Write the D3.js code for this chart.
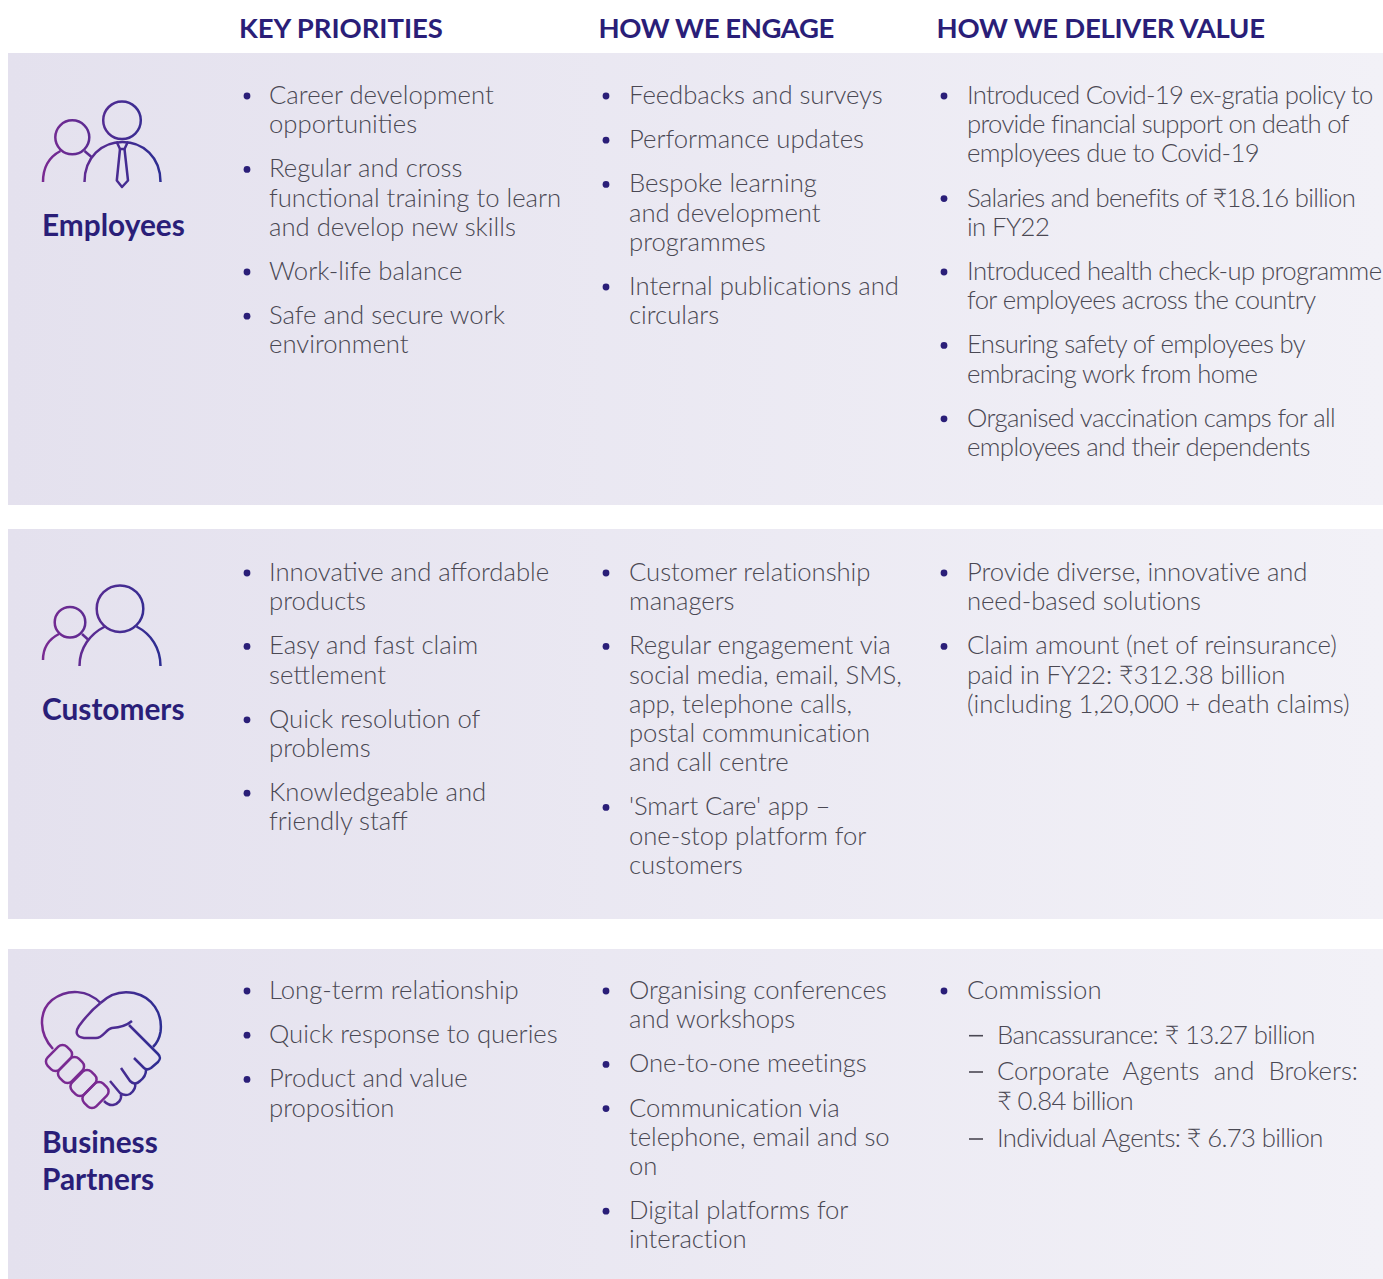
<!DOCTYPE html>
<html>
<head>
<meta charset="utf-8">
<script src="https://cdn.jsdelivr.net/npm/d3@7"></script>
<style>
html, body { margin: 0; padding: 0; background: #fff; overflow: hidden; }
svg { display: block; }
text { font-family: Lato, "Open Sans", sans-serif; }
</style>
</head>
<body>
<script>
//column headings
var headings = ["KEY PRIORITIES", "HOW WE ENGAGE", "HOW WE DELIVER VALUE"];

//row names, one entry per line of the label
var rowNames = [["Employees"], ["Customers"], ["Business", "Partners"]];

//every bullet is a list of the lines it wraps to
var employeesPriorities = [
    ["Career development", "opportunities"],
    ["Regular and cross", "functional training to learn", "and develop new skills"],
    ["Work-life balance"],
    ["Safe and secure work", "environment"]
];
var employeesEngage = [
    ["Feedbacks and surveys"],
    ["Performance updates"],
    ["Bespoke learning", "and development", "programmes"],
    ["Internal publications and", "circulars"]
];
var employeesValue = [
    ["Introduced Covid-19 ex-gratia policy to", "provide financial support on death of", "employees due to Covid-19"],
    ["Salaries and benefits of ₹18.16 billion", "in FY22"],
    ["Introduced health check-up programme", "for employees across the country"],
    ["Ensuring safety of employees by", "embracing work from home"],
    ["Organised vaccination camps for all", "employees and their dependents"]
];
var customersPriorities = [
    ["Innovative and affordable", "products"],
    ["Easy and fast claim", "settlement"],
    ["Quick resolution of", "problems"],
    ["Knowledgeable and", "friendly staff"]
];
var customersEngage = [
    ["Customer relationship", "managers"],
    ["Regular engagement via", "social media, email, SMS,", "app, telephone calls,", "postal communication", "and call centre"],
    ["'Smart Care' app –", "one-stop platform for", "customers"]
];
var customersValue = [
    ["Provide diverse, innovative and", "need-based solutions"],
    ["Claim amount (net of reinsurance)", "paid in FY22: ₹312.38 billion", "(including 1,20,000 + death claims)"]
];
var partnersPriorities = [
    ["Long-term relationship"],
    ["Quick response to queries"],
    ["Product and value", "proposition"]
];
var partnersEngage = [
    ["Organising conferences", "and workshops"],
    ["One-to-one meetings"],
    ["Communication via", "telephone, email and so", "on"],
    ["Digital platforms for", "interaction"]
];
var partnersValue = [
    ["Commission"]
];
var partnersValueSub = [
    ["Bancassurance: ₹ 13.27 billion"],
    ["Corporate Agents and Brokers:", "₹ 0.84 billion"],
    ["Individual Agents: ₹ 6.73 billion"]
];

var rowCells = [
    [employeesPriorities, employeesEngage, employeesValue],
    [customersPriorities, customersEngage, customersValue],
    [partnersPriorities, partnersEngage, partnersValue]
];

var width = 1383;
var height = 1279;

//panel tops and bottoms, first line centre of each row
var panelTop = [53, 529, 949];
var panelBottom = [505, 919, 1279];
var firstLine = [95, 572, 990];
var nameBaseline = [236, 720, 1153];

var lineStep = 29.2;
var itemStep = 44.2;
var bodySize = 25.7;

//the source squeezes some blocks to fit, so tracking differs per block
var cellTracking = [[0, -0.03, -0.6], [0, -0.05, -0.08], [0, -0.05, 0]];
var headingTracking = [-0.05, -0.4, -0.27];

//these lines lose their ti/fi ligatures once tracked, so they need a bit more
var tighterLines = ["Introduced Covid-19 ex-gratia policy to", "provide financial support on death of", "Salaries and benefits of ₹18.16 billion"];

var columnX = d3.scaleOrdinal().domain([0, 1, 2]).range([238.5, 598.5, 936.5]);

var svg = d3.select("body")
    .append("svg")
    .attr("width", width)
    .attr("height", height);

var defs = svg.append("defs");

var panelFill = defs.append("linearGradient").attr("id", "panelFill");
panelFill.append("stop").attr("offset", "0%").attr("stop-color", "#e4e1ee");
panelFill.append("stop").attr("offset", "100%").attr("stop-color", "#f2f1f7");

var iconStroke = defs.append("linearGradient")
    .attr("id", "iconStroke")
    .attr("gradientUnits", "userSpaceOnUse")
    .attr("x1", 42).attr("x2", 162).attr("y1", 0).attr("y2", 0);
iconStroke.append("stop").attr("offset", "0%").attr("stop-color", "#7a2a92");
iconStroke.append("stop").attr("offset", "100%").attr("stop-color", "#2c2d92");

//panels
svg.selectAll("rect.panel")
    .data(panelTop)
    .enter()
    .append("rect")
    .attr("class", "panel")
    .attr("x", 8)
    .attr("y", function(d) { return d; })
    .attr("width", width - 8)
    .attr("height", function(d, i) { return panelBottom[i] - d; })
    .style("fill", "url(#panelFill)");

//headings
svg.selectAll("text.heading")
    .data(headings)
    .enter()
    .append("text")
    .attr("class", "heading")
    .attr("x", function(d, i) { return columnX(i) + (i == 0 ? 0.5 : 0); })
    .attr("y", 38)
    .attr("font-size", "27.5px")
    .attr("font-weight", 700)
    .attr("letter-spacing", function(d, i) { return headingTracking[i] + "px"; })
    .style("fill", "#2a1e78")
    .text(function(d) { return d; });

//row labels
rowNames.forEach(function(lines, r) {
    lines.forEach(function(line, i) {
        svg.append("text")
            .attr("x", 42)
            .attr("y", nameBaseline[r] + i * 37)
            .attr("font-size", "29.8px")
            .attr("font-weight", 700)
            .style("fill", "#2a1e78")
            .text(line);
    });
});

function addLine(x, y, line, tracking) {
    return svg.append("text")
        .attr("x", x)
        .attr("y", y + 9)
        .attr("font-size", bodySize + "px")
        .attr("font-weight", 300)
        .attr("letter-spacing", tracking + "px")
        .style("fill", "#4a4853")
        .text(line);
}

//bullets and their wrapped lines
rowCells.forEach(function(cells, r) {
    cells.forEach(function(items, c) {
        var y = firstLine[r];
        items.forEach(function(lines) {
            svg.append("circle")
                .attr("cx", columnX(c) + (c == 0 ? 8.5 : 7.5))
                .attr("cy", y + 1)
                .attr("r", 3.4)
                .style("fill", "#2a1e78");
            lines.forEach(function(line, i) {
                var tracking = cellTracking[r][c];
                if (tighterLines.indexOf(line) >= 0) {
                    tracking = -0.72;
                }
                addLine(columnX(c) + 30.5, y + i * lineStep, line, tracking);
            });
            y += (lines.length - 1) * lineStep + itemStep;
        });
    });
});

//sub items under Commission
var subY = firstLine[2] + itemStep + 0.5;
var subStep = [36.3, 37, 0];
partnersValueSub.forEach(function(lines, s) {
    svg.append("line")
        .attr("x1", columnX(2) + 32.5)
        .attr("x2", columnX(2) + 46.5)
        .attr("y1", subY + 1)
        .attr("y2", subY + 1)
        .attr("stroke", "#4a4853")
        .attr("stroke-width", 1.6);
    lines.forEach(function(line, i) {
        var justified = line.indexOf("Corporate") == 0;
        var t = addLine(columnX(2) + 60.5, subY + i * 30, line, justified ? 0 : -0.63);
        if (justified) {
            t.attr("word-spacing", "7.2px");
        }
    });
    subY += (lines.length - 1) * 30 + subStep[s];
});

//icons, drawn by hand from the picture
var icons = svg.append("g")
    .attr("fill", "none")
    .attr("stroke", "url(#iconStroke)")
    .attr("stroke-width", 2.5)
    .attr("stroke-linejoin", "round");

var iconCircles = [
    [122, 120.3, 18.8], [72.3, 137.3, 17],
    [120, 608.7, 23.3], [70, 622.3, 15.3]
];
icons.selectAll("circle")
    .data(iconCircles)
    .enter()
    .append("circle")
    .attr("cx", function(d) { return d[0]; })
    .attr("cy", function(d) { return d[1]; })
    .attr("r", function(d) { return d[2]; });

var iconPaths = [
    //employees
    "M84.5,182 C84.5,157 102,142 122.5,142 C143,142 160.5,157 160.5,182",
    "M43,182 C43,167 49,157 60.5,151",
    "M84.5,151 L91.5,157",
    "M116.5,141.5 L120,149 L124.5,149 L128,141.5",
    "M120,149 L116.8,180.5 L122,187 L128,180.5 L124.5,149",
    //customers
    "M79.5,666 C79.5,648 90,634 105,626.5",
    "M136.5,626.5 C151,634 160.5,648 160.5,666",
    "M43,660 C43,648 49,639 59,634",
    "M82,634 L88,639.5",
    //partners, heart and hand
    "M53,1049 C39,1034 38,1012 52,1000 C68,988 88,990 100.5,1003",
    "M100.5,1003 C112,992 124,991 134,993 C152,997 163,1013 160.5,1032 C159.5,1038 157,1043 153,1047",
    "M100.5,1003 C94,1008 87,1015 79,1026 C75,1032 76,1037 84,1038 L96,1038 C103,1038 106,1029 112,1028 C120,1027.5 126,1026 132,1021",
    "M129,1025 L158,1054 C161,1057 160.5,1059 158,1062 L151,1068 C148,1070 146,1070 144,1068 L134,1058",
    "M146,1070 C146,1074 144,1078 140,1081 C136,1085 133,1084 130,1081 L121,1068",
    "M135,1083 C136,1087 134,1091 130,1094 C126,1096 123,1095 120,1093 L110,1081",
    "M121,1094 C122,1100 118,1104 113,1105 C110,1105.5 107,1104 104,1101"
];
icons.selectAll("path")
    .data(iconPaths)
    .enter()
    .append("path")
    .attr("d", function(d) { return d; });

//the four fingers of the left hand
var fingerCentres = [[59, 1058], [71, 1070], [83.5, 1083], [95.5, 1095]];
icons.selectAll("rect")
    .data(fingerCentres)
    .enter()
    .append("rect")
    .attr("x", -13.5)
    .attr("y", -8.5)
    .attr("width", 27)
    .attr("height", 17)
    .attr("rx", 6)
    .attr("transform", function(d) { return "translate(" + d[0] + "," + d[1] + ") rotate(-45)"; });
</script>
</body>
</html>
